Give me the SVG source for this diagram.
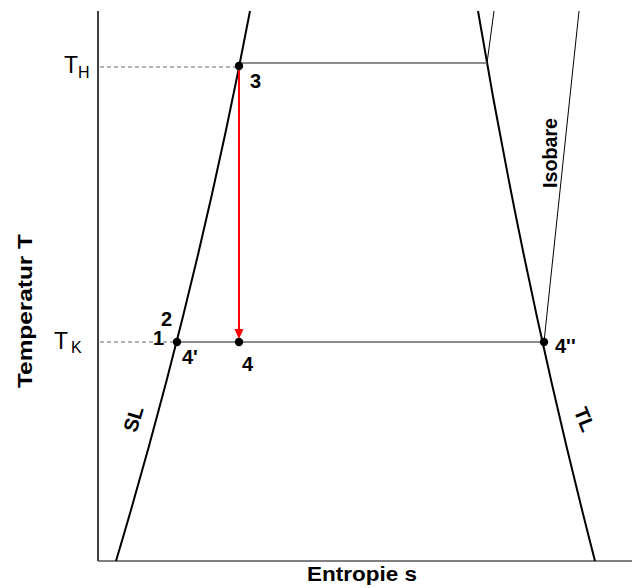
<svg xmlns="http://www.w3.org/2000/svg" width="632" height="588" viewBox="0 0 632 588">
<style>
.lbl{font-family:"Liberation Sans",Arial,sans-serif;font-weight:bold;font-size:20px;fill:#000}
.tsym{font-family:"Liberation Sans",Arial,sans-serif;font-size:23px;fill:#000}
.tsub{font-family:"Liberation Sans",Arial,sans-serif;font-size:16px;fill:#000}
.curve{fill:none;stroke:#000;stroke-width:2}
.hline{stroke:#666;stroke-width:1.5;fill:none}
.dash{stroke:#666;stroke-width:1;stroke-dasharray:4,3;fill:none}
.thin{stroke:#000;stroke-width:1;fill:none}
.dot{fill:#000}
</style>
<rect width="632" height="588" fill="#fff"/>
<g id="axes">
<line x1="98" y1="11" x2="98" y2="561" stroke="#000" stroke-width="1.5"/>
<line x1="98" y1="561" x2="632" y2="561" stroke="#555" stroke-width="1.5"/>
</g>
<g id="curves">
<path id="SL" class="curve" d="M116,561 Q197,290 250,11"/>
<path id="TL" class="curve" d="M595,561 Q525,290 478,11"/>
<line class="thin" x1="487" y1="63" x2="494" y2="11" stroke="#555"/>
<line id="isobare-line" class="thin" x1="544" y1="342" x2="579" y2="11"/>
</g>
<g id="connectors">
<line class="dash" x1="100" y1="67" x2="236" y2="67"/>
<line class="hline" x1="239" y1="63" x2="487" y2="63"/>
<line class="dash" x1="100" y1="342" x2="175" y2="342"/>
<line class="hline" x1="177" y1="342" x2="544" y2="342"/>
<line x1="239" y1="70" x2="239" y2="330" stroke="#f00" stroke-width="2"/>
<polygon points="234.5,329 243.5,329 239,339" fill="#f00"/>
</g>
<g id="p3"><circle class="dot" cx="239" cy="66" r="4.2"/><text class="lbl" x="250" y="88">3</text></g>
<g id="p4p"><circle class="dot" cx="177" cy="342" r="4.2"/><text class="lbl" x="182" y="364">4'</text></g>
<g id="p4"><circle class="dot" cx="239" cy="342" r="4.2"/><text class="lbl" x="242" y="371">4</text></g>
<g id="p4pp"><circle class="dot" cx="544" cy="342" r="4.2"/><text class="lbl" x="555" y="353">4''</text></g>
<g id="p2"><text class="lbl" x="161" y="326">2</text></g>
<g id="p1"><text class="lbl" x="153" y="345">1</text></g>
<g id="TH"><text class="tsym" x="64" y="73">T</text><text class="tsub" x="78" y="78">H</text></g>
<g id="TK"><text class="tsym" x="54" y="349">T</text><text class="tsub" x="71" y="353">K</text></g>
<g id="labels">
<text class="lbl" transform="translate(557,153) rotate(-90)" text-anchor="middle" textLength="70" lengthAdjust="spacingAndGlyphs">Isobare</text>
<text class="lbl" font-size="18" transform="translate(140,421) rotate(-73)" text-anchor="middle">SL</text>
<text class="lbl" font-size="18" transform="translate(578,422) rotate(68)" text-anchor="middle">TL</text>
<text class="lbl" font-size="22" transform="translate(32,311) rotate(-90)" text-anchor="middle" textLength="154" lengthAdjust="spacingAndGlyphs">Temperatur T</text>
<text class="lbl" font-size="22" x="362" y="581" text-anchor="middle" textLength="110" lengthAdjust="spacingAndGlyphs">Entropie s</text>
</g>
</svg>
